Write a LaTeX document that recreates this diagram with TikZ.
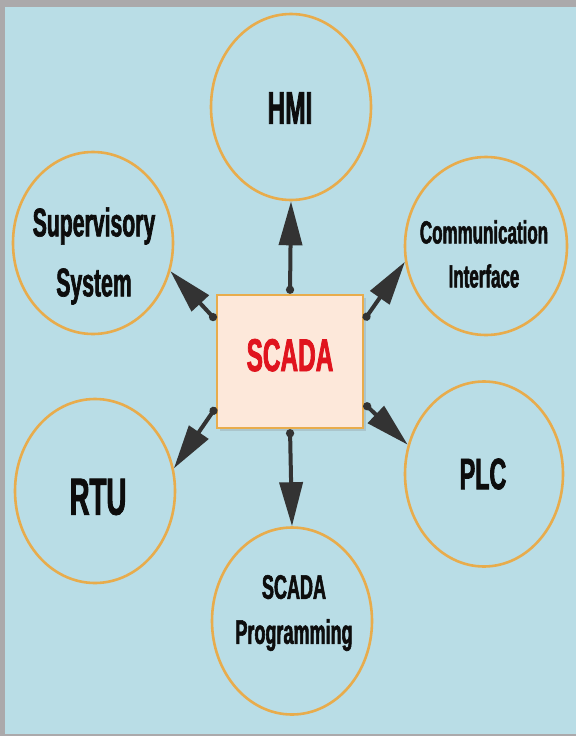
\documentclass[tikz,border=0pt]{standalone}
\usepackage{fontspec}
\newfontfamily\condfont[FakeStretch=0.53, FakeBold=1.6]{Liberation Sans}
\usetikzlibrary{shapes.geometric,arrows.meta,shadows}

\definecolor{skyback}{HTML}{B9DDE6}
\definecolor{ringorange}{HTML}{E8AC4C}
\definecolor{hubfill}{HTML}{FDE8DA}
\definecolor{hubred}{HTML}{E0141E}
\definecolor{framegray}{HTML}{ABA9AB}
\definecolor{arrowdark}{HTML}{333333}
\newcommand{\capfont}[2]{\condfont\bfseries\fontsize{#1}{#2}\selectfont}

\begin{document}
\begin{tikzpicture}[
    x=1pt, y=-1pt,
    bubble/.style={ellipse, draw=ringorange, line width=2.6pt, minimum width=160pt, minimum height=184pt, inner sep=0pt},
    hub/.style={rectangle, draw=ringorange, fill=hubfill, line width=2.5pt, minimum width=146pt, minimum height=133pt,
        drop shadow={opacity=0.25, shadow xshift=3pt, shadow yshift=-3pt}},
    lbl/.style={align=center, text=black!95, inner sep=0pt},
    link/.style={line width=4pt, draw=arrowdark, {Circle[length=8pt]}-{Triangle[length=44pt,width=23pt]}}
]

% Frame and background
\fill[framegray] (0,0) rectangle (576,736);
\fill[skyback] (5,7) rectangle (576,734);
\useasboundingbox (0,0) rectangle (576,736);

% Centre block
\node[hub, font=\capfont{46}{50}, text=hubred, text depth=13pt] (scada) at (290,361.5) {SCADA};

% Surrounding bubbles
\node[bubble, minimum height=186pt] (hmi) at (291,107) {};
\node[bubble, minimum height=182pt] (sup) at (93,243) {};
\node[bubble, minimum width=162pt, minimum height=178pt] (comm) at (486,246) {};
\node[bubble] (rtu) at (95,491) {};
\node[bubble, minimum width=158pt, minimum height=185pt] (plc) at (484,474) {};
\node[bubble, minimum height=187pt] (prog) at (292,621) {};

% Bubble labels
\node[lbl, font=\capfont{46}{55}] (hmi-t) at (290,108) {HMI};
\node[lbl, font=\capfont{40}{60}] (sup-t) at (94,256) {Supervisory\\System};
\node[lbl, font=\capfont{32}{44}] (comm-t) at (484,254) {Communication\\Interface};
\node[lbl, font=\capfont{52}{60}] (rtu-t) at (98,497) {RTU};
\node[lbl, font=\capfont{44}{50}] (plc-t) at (483,474) {PLC};
\node[lbl, font=\capfont{34}{45}] (prog-t) at (294,613) {SCADA\\Programming};

% Links from the centre
\draw[link] (scada.north) -- (hmi.south);
\draw[link] ([yshift=41.5pt]scada.west) -- (sup.-20);
\draw[link] ([yshift=41.5pt]scada.east) -- (comm.191);
\draw[link] ([yshift=-46pt]scada.west) -- (rtu.16);
\draw[link] ([yshift=-42pt]scada.east) -- (plc.159);
\draw[link] (scada.south) -- (prog.north);

\end{tikzpicture}
\end{document}
